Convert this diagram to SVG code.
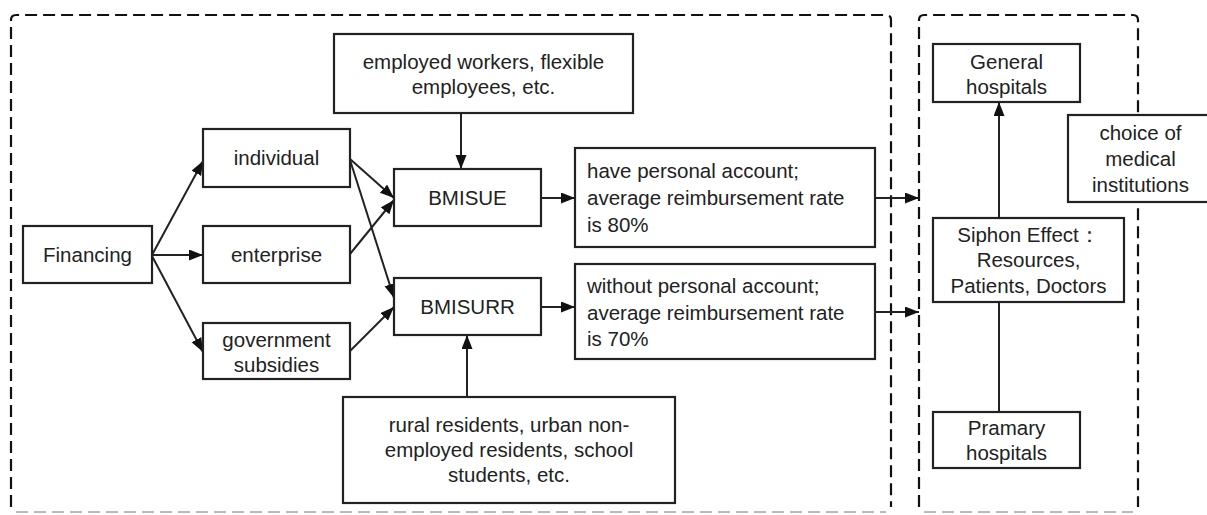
<svg xmlns="http://www.w3.org/2000/svg" width="1207" height="515" viewBox="0 0 1207 515">
<style>
  .box{fill:#fff;stroke:#222;stroke-width:2.2}
  .t{font-family:"Liberation Sans",Arial,sans-serif;font-size:20.5px;fill:#222;text-anchor:middle}
  .tl{font-family:"Liberation Sans",Arial,sans-serif;font-size:20.5px;fill:#222;text-anchor:start}
  .c{fill:none;stroke:#222;stroke-width:2}
  .dash{fill:none;stroke:#111;stroke-width:2.2;stroke-dasharray:12 6}
  .dashb{fill:none;stroke:#bbb;stroke-width:2;stroke-dasharray:12 6}
</style>
<defs>
  <marker id="ah" markerUnits="userSpaceOnUse" markerWidth="16" markerHeight="12" refX="14" refY="5.5" orient="auto">
    <path d="M0,0 L14,5.5 L0,11 Z" fill="#111"/>
  </marker>
</defs>
<rect width="1207" height="515" fill="#fff"/>
<g id="groups">
  <path class="dash" d="M11,507 V20 Q11,15 16,15 H886 Q891,15 891,20 V507"/>
  <path class="dashb" d="M16,512 H886"/>
  <path class="dash" d="M919,507 V20 Q919,15 924,15 H1133 Q1138,15 1138,20 V507"/>
  <path class="dashb" d="M924,512 H1133"/>
</g>
<g id="connectors">
  <line class="c" x1="152" y1="255" x2="203" y2="161" marker-end="url(#ah)"/>
  <line class="c" x1="152" y1="255" x2="203" y2="255" marker-end="url(#ah)"/>
  <line class="c" x1="152" y1="256" x2="203" y2="352" marker-end="url(#ah)"/>
  <line class="c" x1="350" y1="159" x2="394" y2="198" marker-end="url(#ah)"/>
  <line class="c" x1="350" y1="160" x2="394" y2="298" marker-end="url(#ah)"/>
  <line class="c" x1="350" y1="254" x2="394" y2="200" marker-end="url(#ah)"/>
  <line class="c" x1="350" y1="351" x2="394" y2="307" marker-end="url(#ah)"/>
  <line class="c" x1="461" y1="113" x2="461" y2="169" marker-end="url(#ah)"/>
  <line class="c" x1="467" y1="397" x2="467" y2="335" marker-end="url(#ah)"/>
  <line class="c" x1="541" y1="198" x2="575" y2="198" marker-end="url(#ah)"/>
  <line class="c" x1="541" y1="307" x2="575" y2="307" marker-end="url(#ah)"/>
  <line class="c" x1="875" y1="198" x2="919" y2="198" marker-end="url(#ah)"/>
  <line class="c" x1="875" y1="312" x2="919" y2="312" marker-end="url(#ah)"/>
  <line class="c" x1="999" y1="218" x2="999" y2="102" marker-end="url(#ah)"/>
  <line class="c" x1="999" y1="412" x2="999" y2="302"/>
</g>
<g id="financing">
  <rect class="box" x="23" y="226" width="129" height="57"/>
  <text class="t" x="87.5" y="262">Financing</text>
</g>
<g id="individual">
  <rect class="box" x="203" y="129" width="147" height="58"/>
  <text class="t" x="276.5" y="165">individual</text>
</g>
<g id="enterprise">
  <rect class="box" x="203" y="226" width="147" height="57"/>
  <text class="t" x="276.5" y="262">enterprise</text>
</g>
<g id="government">
  <rect class="box" x="203" y="323" width="147" height="56"/>
  <text class="t" x="276.5" y="347">government</text>
  <text class="t" x="276.5" y="372">subsidies</text>
</g>
<g id="employed">
  <rect class="box" x="334" y="34" width="299" height="79"/>
  <text class="t" x="483.5" y="69">employed workers, flexible</text>
  <text class="t" x="483.5" y="94">employees, etc.</text>
</g>
<g id="bmisue">
  <rect class="box" x="394" y="169" width="147" height="57"/>
  <text class="t" x="467.5" y="205">BMISUE</text>
</g>
<g id="bmisurr">
  <rect class="box" x="394" y="278" width="147" height="57"/>
  <text class="t" x="467.5" y="314">BMISURR</text>
</g>
<g id="rural">
  <rect class="box" x="343" y="397" width="332" height="106"/>
  <text class="t" x="509" y="432">rural residents, urban non-</text>
  <text class="t" x="509" y="457">employed residents, school</text>
  <text class="t" x="509" y="482">students, etc.</text>
</g>
<g id="have">
  <rect class="box" x="575" y="148" width="300" height="99"/>
  <text class="tl" x="587" y="178">have personal account;</text>
  <text class="tl" x="587" y="205">average reimbursement rate</text>
  <text class="tl" x="587" y="232">is 80%</text>
</g>
<g id="without">
  <rect class="box" x="575" y="264" width="300" height="95"/>
  <text class="tl" x="587" y="293">without personal account;</text>
  <text class="tl" x="587" y="320">average reimbursement rate</text>
  <text class="tl" x="587" y="346">is 70%</text>
</g>
<g id="general">
  <rect class="box" x="933" y="44" width="147" height="58"/>
  <text class="t" x="1006.5" y="69">General</text>
  <text class="t" x="1006.5" y="94">hospitals</text>
</g>
<g id="choice">
  <rect class="box" x="1068" y="115" width="145" height="87"/>
  <text class="t" x="1140.5" y="140">choice of</text>
  <text class="t" x="1140.5" y="166">medical</text>
  <text class="t" x="1140.5" y="192">institutions</text>
</g>
<g id="siphon">
  <rect class="box" x="933" y="218" width="191" height="84"/>
  <text class="t" x="1028.5" y="242">Siphon Effect：</text>
  <text class="t" x="1028.5" y="267">Resources,</text>
  <text class="t" x="1028.5" y="293">Patients, Doctors</text>
</g>
<g id="primary">
  <rect class="box" x="933" y="412" width="147" height="56"/>
  <text class="t" x="1006.5" y="435">Pramary</text>
  <text class="t" x="1006.5" y="460">hospitals</text>
</g>
</svg>
